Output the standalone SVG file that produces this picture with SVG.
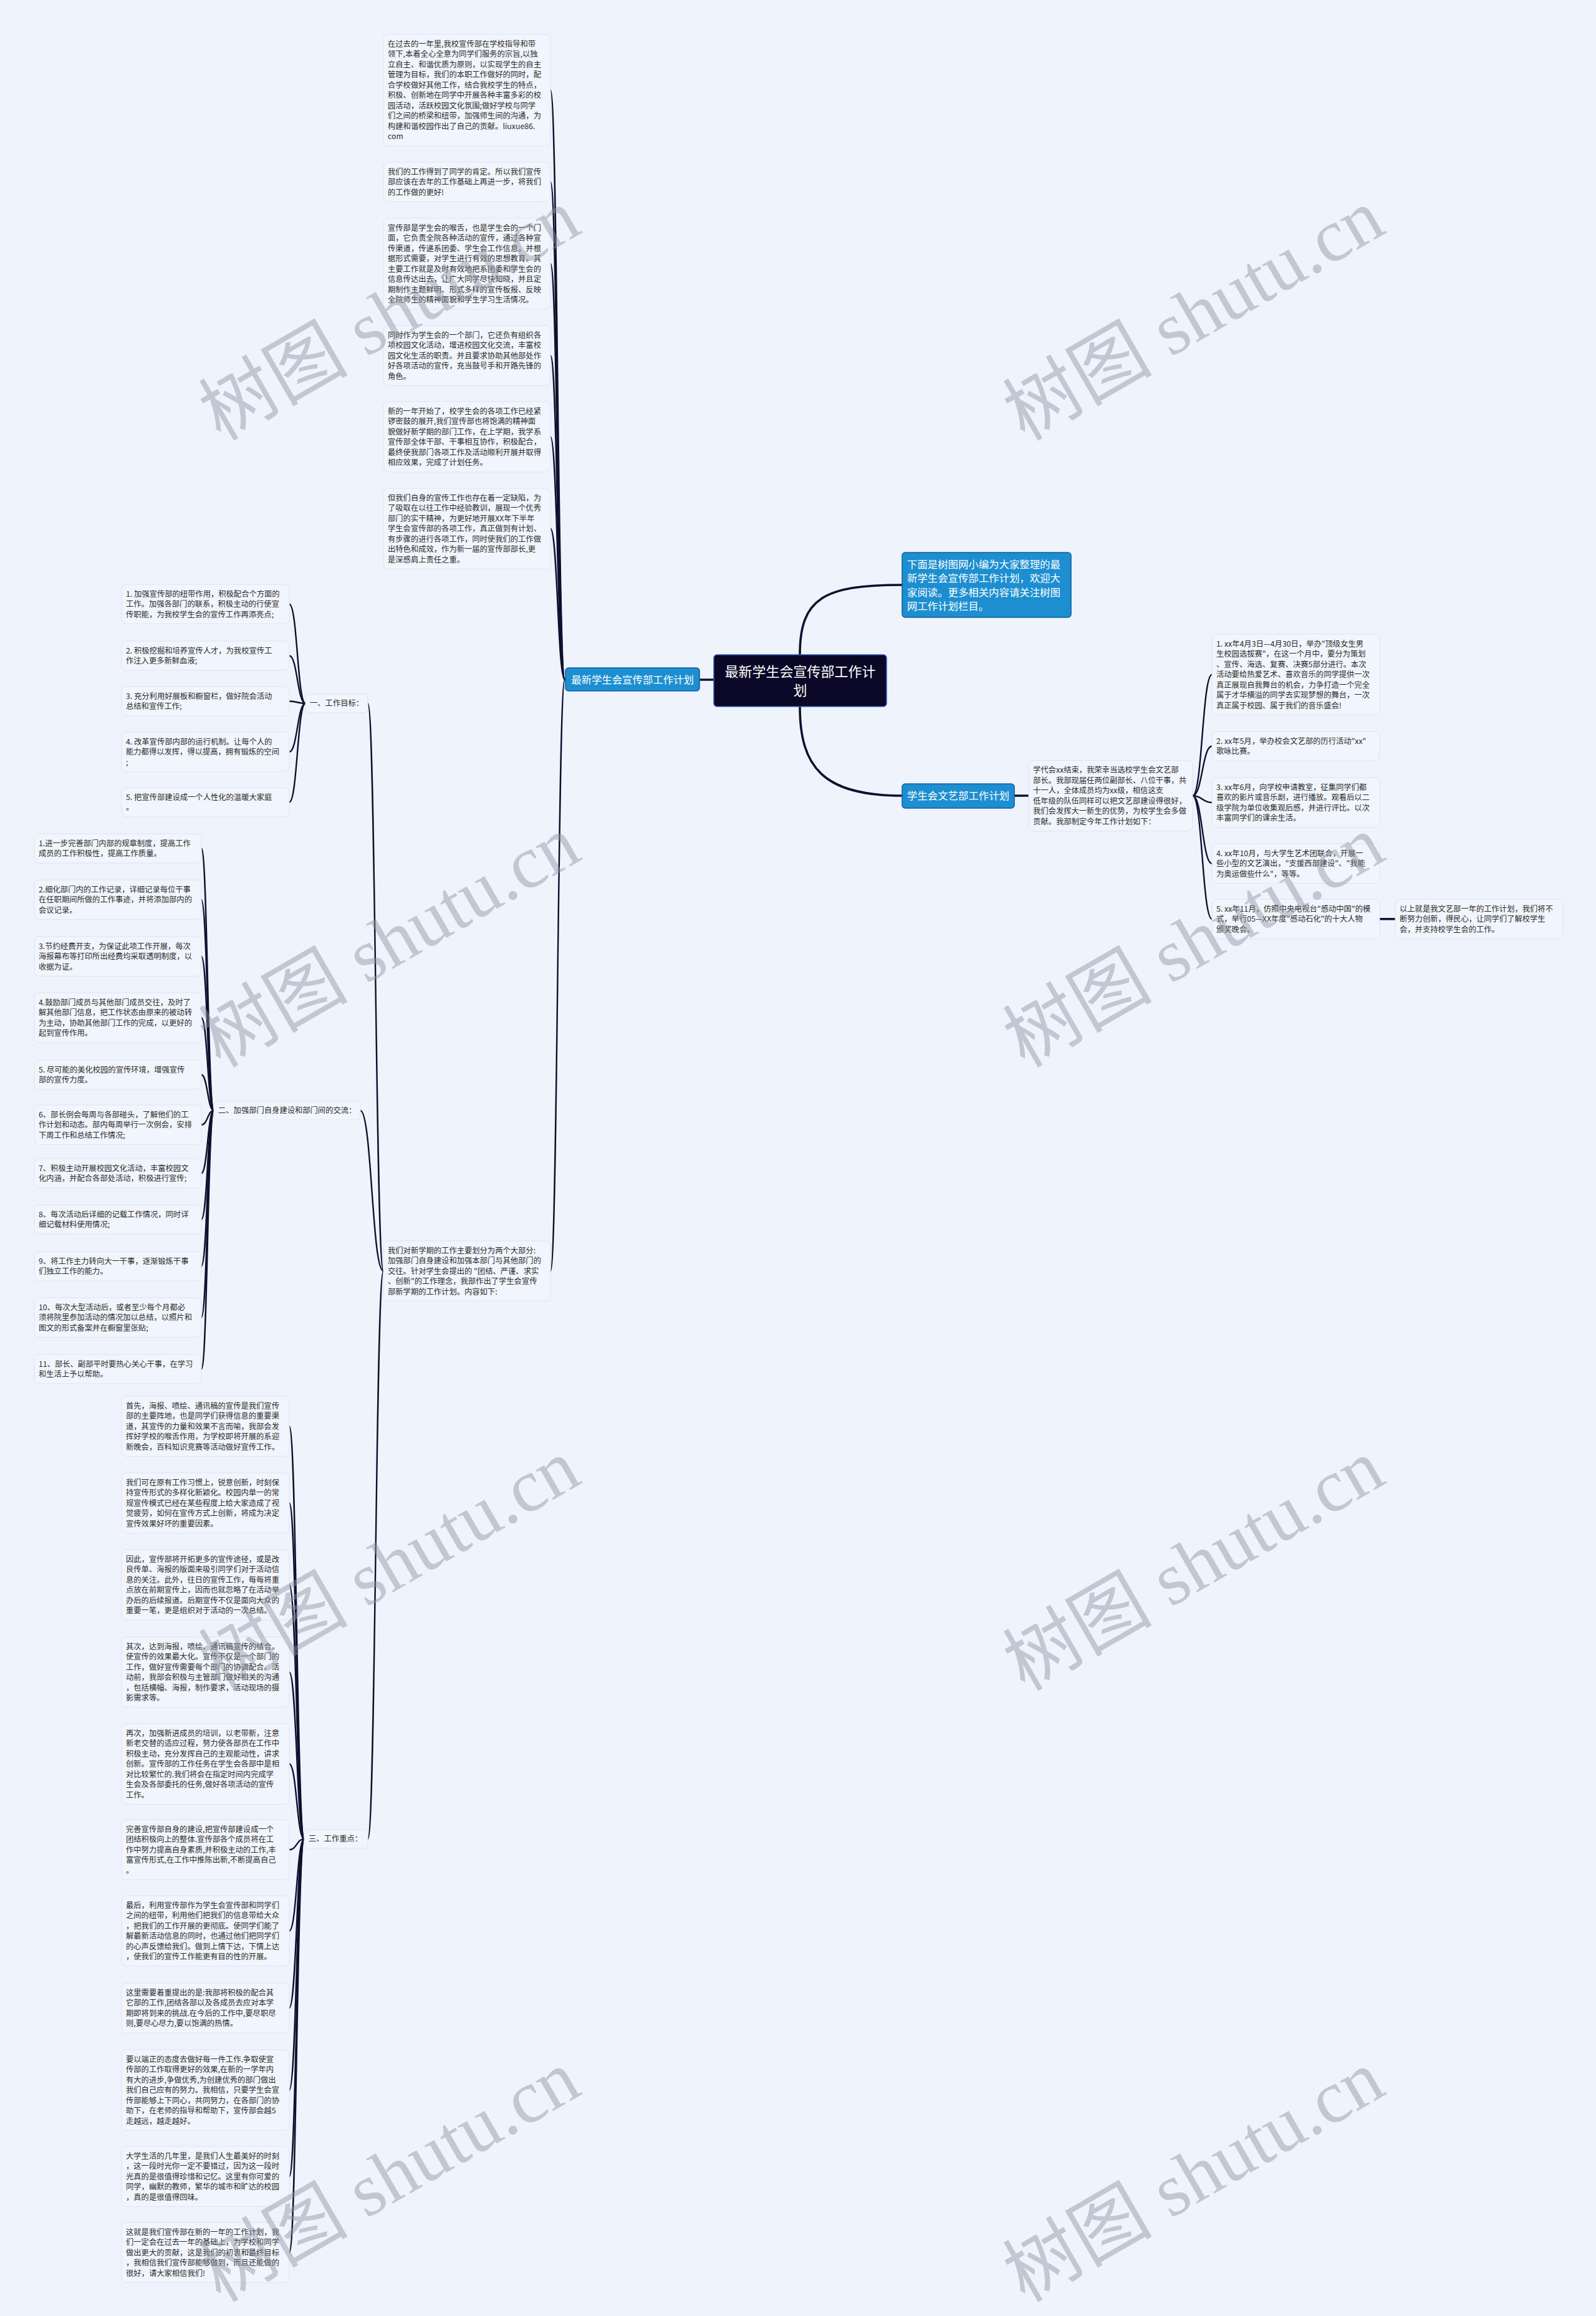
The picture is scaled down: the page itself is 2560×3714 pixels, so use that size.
<svg xmlns="http://www.w3.org/2000/svg" width="2560" height="3714" viewBox="0 0 2560 3714">
<style>
.t{font-family:"Noto Sans CJK SC","Noto Sans",sans-serif;font-size:12.3px;fill:#2b2b2b}
.blk{fill:#f1f5fd;stroke:#dde5f3;stroke-width:1}
.blue{fill:#1d8fd1;stroke:#0f5e9f;stroke-width:1.5}
.bt{font-family:"Noto Sans CJK SC","Noto Sans",sans-serif;font-size:16.4px;fill:#ffffff}
.rt{font-family:"Noto Sans CJK SC","Noto Sans",sans-serif;font-size:22px;fill:#ffffff}
.c{fill:none;stroke:#10102e;stroke-width:2.4;stroke-linecap:round}
.cr{fill:none;stroke:#10102e;stroke-width:3.6;stroke-linecap:round}
.wm{font-family:"Liberation Serif","Noto Sans CJK SC",serif;font-size:120px;fill:#8e95a2;opacity:0.45}
</style>
<rect x="0" y="0" width="2560" height="3714" fill="#eef3fc"/>

<g id="connectors">
<path class="cr" d="M1283 1050 C1283 960 1320 938 1447 938"/>
<path class="cr" d="M1283 1133 C1283 1230 1320 1276 1447 1276"/>
<path class="cr" d="M1145 1090 L1122 1090"/>
<path class="c" d="M906 1090 C894.5 1090 894.5 144.5 883 144.5"/>
<path class="c" d="M906 1090 C894.5 1090 894.5 291.75 883 291.75"/>
<path class="c" d="M906 1090 C894.5 1090 894.5 423 883 423"/>
<path class="c" d="M906 1090 C894.5 1090 894.5 570.25 883 570.25"/>
<path class="c" d="M906 1090 C894.5 1090 894.5 700.5 883 700.5"/>
<path class="c" d="M906 1090 C894.5 1090 894.5 847.75 883 847.75"/>
<path class="c" d="M906 1090 C894.5 1090 894.5 2038.25 883 2038.25"/>
<path class="c" d="M615 2038.25 C602.5 2038.25 602.5 1128 590 1128"/>
<path class="c" d="M615 2038.25 C596.5 2038.25 596.5 1781 578 1781"/>
<path class="c" d="M615 2038.25 C602.5 2038.25 602.5 2949 590 2949"/>
<path class="c" d="M490 1128 C477 1128 477 968.75 464 968.75"/>
<path class="c" d="M490 1128 C477 1128 477 1051.5 464 1051.5"/>
<path class="c" d="M490 1128 C477 1128 477 1124.5 464 1124.5"/>
<path class="c" d="M490 1128 C477 1128 477 1205.75 464 1205.75"/>
<path class="c" d="M490 1128 C477 1128 477 1286.5 464 1286.5"/>
<path class="c" d="M343 1781 C333 1781 333 1360.5 323 1360.5"/>
<path class="c" d="M343 1781 C333 1781 333 1442.75 323 1442.75"/>
<path class="c" d="M343 1781 C333 1781 333 1533.75 323 1533.75"/>
<path class="c" d="M343 1781 C333 1781 333 1632 323 1632"/>
<path class="c" d="M343 1781 C333 1781 333 1723.5 323 1723.5"/>
<path class="c" d="M343 1781 C333 1781 333 1803.75 323 1803.75"/>
<path class="c" d="M343 1781 C333 1781 333 1881.5 323 1881.5"/>
<path class="c" d="M343 1781 C333 1781 333 1955.5 323 1955.5"/>
<path class="c" d="M343 1781 C333 1781 333 2030.5 323 2030.5"/>
<path class="c" d="M343 1781 C333 1781 333 2112.75 323 2112.75"/>
<path class="c" d="M343 1781 C333 1781 333 2195.5 323 2195.5"/>
<path class="c" d="M488 2949 C476 2949 476 2287.25 464 2287.25"/>
<path class="c" d="M488 2949 C476 2949 476 2410.25 464 2410.25"/>
<path class="c" d="M488 2949 C476 2949 476 2541.5 464 2541.5"/>
<path class="c" d="M488 2949 C476 2949 476 2681.5 464 2681.5"/>
<path class="c" d="M488 2949 C476 2949 476 2828.75 464 2828.75"/>
<path class="c" d="M488 2949 C476 2949 476 2966.25 464 2966.25"/>
<path class="c" d="M488 2949 C476 2949 476 3096.5 464 3096.5"/>
<path class="c" d="M488 2949 C476 2949 476 3220 464 3220"/>
<path class="c" d="M488 2949 C476 2949 476 3351.75 464 3351.75"/>
<path class="c" d="M488 2949 C476 2949 476 3490.25 464 3490.25"/>
<path class="c" d="M488 2949 C476 2949 476 3612.25 464 3612.25"/>
<path class="cr" d="M1627 1276 L1650 1276"/>
<path class="c" d="M1913 1276 C1928.5 1276 1928.5 1081.75 1944 1081.75"/>
<path class="c" d="M1913 1276 C1928.5 1276 1928.5 1196.5 1944 1196.5"/>
<path class="c" d="M1913 1276 C1928.5 1276 1928.5 1287 1944 1287"/>
<path class="c" d="M1913 1276 C1928.5 1276 1928.5 1384.75 1944 1384.75"/>
<path class="c" d="M1913 1276 C1928.5 1276 1928.5 1473.75 1944 1473.75"/>
<path class="cr" d="M2213 1473.75 L2238 1473.75"/>
</g>

<g id="root">
<rect x="1145" y="1050" width="277" height="83" rx="5" fill="#0a0826" stroke="#2a5cb0" stroke-width="1.5"/>
<text class="rt" text-anchor="middle"><tspan x="1283.5" y="1084.7">最新学生会宣传部工作计</tspan><tspan x="1283.5" y="1114.7">划</tspan></text>
</g>
<g id="n-intro">
<rect class="blue" x="1447" y="886" width="271" height="104" rx="5"/>
<text class="bt"><tspan x="1455" y="911">下面是树图网小编为大家整理的最</tspan><tspan x="1455" y="933.3">新学生会宣传部工作计划，欢迎大</tspan><tspan x="1455" y="955.6">家阅读。更多相关内容请关注树图</tspan><tspan x="1455" y="978">网工作计划栏目。</tspan></text>
</g>
<g id="n-left">
<rect class="blue" x="907" y="1071" width="215" height="37" rx="5"/>
<text class="bt" x="1014.5" y="1095.7" text-anchor="middle">最新学生会宣传部工作计划</text>
</g>
<g id="n-wenyi">
<rect class="blue" x="1447" y="1257" width="180" height="39" rx="5"/>
<text class="bt" x="1537" y="1282" text-anchor="middle">学生会文艺部工作计划</text>
</g>

<g id="t-a">
<rect class="blk" x="615" y="55" width="268" height="179" rx="8"/>
<text class="t" y="74.5"><tspan x="622" dy="0">在过去的一年里,我校宣传部在学校指导和带</tspan><tspan x="622" dy="16.5">领下,本着全心全意为同学们服务的宗旨,以独</tspan><tspan x="622" dy="16.5">立自主、和谐优质为原则，以实现学生的自主</tspan><tspan x="622" dy="16.5">管理为目标，我们的本职工作做好的同时，配</tspan><tspan x="622" dy="16.5">合学校做好其他工作，结合我校学生的特点，</tspan><tspan x="622" dy="16.5">积极、创新地在同学中开展各种丰富多彩的校</tspan><tspan x="622" dy="16.5">园活动，活跃校园文化氛围;做好学校与同学</tspan><tspan x="622" dy="16.5">们之间的桥梁和纽带，加强师生间的沟通，为</tspan><tspan x="622" dy="16.5">构建和谐校园作出了自己的贡献。liuxue86.</tspan><tspan x="622" dy="16.5">com</tspan></text>
</g>
<g id="t-b">
<rect class="blk" x="615" y="260" width="268" height="63.5" rx="8"/>
<text class="t" y="279.5"><tspan x="622" dy="0">我们的工作得到了同学的肯定。所以我们宣传</tspan><tspan x="622" dy="16.5">部应该在去年的工作基础上再进一步，将我们</tspan><tspan x="622" dy="16.5">的工作做的更好!</tspan></text>
</g>
<g id="t-c">
<rect class="blk" x="615" y="350" width="268" height="146" rx="8"/>
<text class="t" y="369.5"><tspan x="622" dy="0">宣传部是学生会的喉舌，也是学生会的一个门</tspan><tspan x="622" dy="16.5">面，它负责全院各种活动的宣传，通过各种宣</tspan><tspan x="622" dy="16.5">传渠道，传递系团委、学生会工作信息，并根</tspan><tspan x="622" dy="16.5">据形式需要，对学生进行有效的思想教育。其</tspan><tspan x="622" dy="16.5">主要工作就是及时有效地把系团委和学生会的</tspan><tspan x="622" dy="16.5">信息传达出去，让广大同学尽快知晓，并且定</tspan><tspan x="622" dy="16.5">期制作主题鲜明、形式多样的宣传板报、反映</tspan><tspan x="622" dy="16.5">全院师生的精神面貌和学生学习生活情况。</tspan></text>
</g>
<g id="t-d">
<rect class="blk" x="615" y="522" width="268" height="96.5" rx="8"/>
<text class="t" y="541.5"><tspan x="622" dy="0">同时作为学生会的一个部门，它还负有组织各</tspan><tspan x="622" dy="16.5">项校园文化活动，增进校园文化交流，丰富校</tspan><tspan x="622" dy="16.5">园文化生活的职责。并且要求协助其他部处作</tspan><tspan x="622" dy="16.5">好各项活动的宣传，充当鼓号手和开路先锋的</tspan><tspan x="622" dy="16.5">角色。</tspan></text>
</g>
<g id="t-e">
<rect class="blk" x="615" y="644" width="268" height="113" rx="8"/>
<text class="t" y="663.5"><tspan x="622" dy="0">新的一年开始了，校学生会的各项工作已经紧</tspan><tspan x="622" dy="16.5">锣密鼓的展开,我们宣传部也将饱满的精神面</tspan><tspan x="622" dy="16.5">貌做好新学期的部门工作，在上学期，我学系</tspan><tspan x="622" dy="16.5">宣传部全体干部、干事相互协作，积极配合，</tspan><tspan x="622" dy="16.5">最终使我部门各项工作及活动顺利开展并取得</tspan><tspan x="622" dy="16.5">相应效果，完成了计划任务。</tspan></text>
</g>
<g id="t-f">
<rect class="blk" x="615" y="783" width="268" height="129.5" rx="8"/>
<text class="t" y="802.5"><tspan x="622" dy="0">但我们自身的宣传工作也存在着一定缺陷，为</tspan><tspan x="622" dy="16.5">了吸取在以往工作中经验教训，展现一个优秀</tspan><tspan x="622" dy="16.5">部门的实干精神，为更好地开展XX年下半年</tspan><tspan x="622" dy="16.5">学生会宣传部的各项工作，真正做到有计划、</tspan><tspan x="622" dy="16.5">有步骤的进行各项工作，同时使我们的工作做</tspan><tspan x="622" dy="16.5">出特色和成效，作为新一届的宣传部部长,更</tspan><tspan x="622" dy="16.5">是深感肩上责任之重。</tspan></text>
</g>
<g id="t-g">
<rect class="blk" x="615" y="1990" width="268" height="96.5" rx="8"/>
<text class="t" y="2009.5"><tspan x="622" dy="0">我们对新学期的工作主要划分为两个大部分:</tspan><tspan x="622" dy="16.5">加强部门自身建设和加强本部门与其他部门的</tspan><tspan x="622" dy="16.5">交往。针对学生会提出的 "团结、严谨、求实</tspan><tspan x="622" dy="16.5">、创新"的工作理念，我部作出了学生会宣传</tspan><tspan x="622" dy="16.5">部新学期的工作计划。内容如下:</tspan></text>
</g>

<g id="n-one">
<rect class="blk" x="490" y="1113" width="100" height="30" rx="6"/>
<text class="t" x="497" y="1132.3">一、工作目标：</text>
</g>
<g id="b1"><rect class="blk" x="195" y="937" width="269" height="63.5" rx="8"/>
<text class="t" y="956.5"><tspan x="202" dy="0">1. 加强宣传部的纽带作用，积极配合个方面的</tspan><tspan x="202" dy="16.5">工作。加强各部门的联系，积极主动的行使宣</tspan><tspan x="202" dy="16.5">传职能，为我校学生会的宣传工作再添亮点;</tspan></text></g>
<g id="b2"><rect class="blk" x="195" y="1028" width="269" height="47" rx="8"/>
<text class="t" y="1047.5"><tspan x="202" dy="0">2. 积极挖掘和培养宣传人才，为我校宣传工</tspan><tspan x="202" dy="16.5">作注入更多新鲜血液;</tspan></text></g>
<g id="b3"><rect class="blk" x="195" y="1101" width="269" height="47" rx="8"/>
<text class="t" y="1120.5"><tspan x="202" dy="0">3. 充分利用好展板和橱窗栏，做好院会活动</tspan><tspan x="202" dy="16.5">总结和宣传工作;</tspan></text></g>
<g id="b4"><rect class="blk" x="195" y="1174" width="269" height="63.5" rx="8"/>
<text class="t" y="1193.5"><tspan x="202" dy="0">4. 改革宣传部内部的运行机制。让每个人的</tspan><tspan x="202" dy="16.5">能力都得以发挥，得以提高，拥有锻炼的空间</tspan><tspan x="202" dy="16.5">;</tspan></text></g>
<g id="b5"><rect class="blk" x="195" y="1263" width="269" height="47" rx="8"/>
<text class="t" y="1282.5"><tspan x="202" dy="0">5. 把宣传部建设成一个人性化的温暖大家庭</tspan><tspan x="202" dy="16.5">。</tspan></text></g>

<g id="n-two">
<rect class="blk" x="343" y="1766" width="235" height="30" rx="6"/>
<text class="t" x="350" y="1785.3">二、加强部门自身建设和部门间的交流：</text>
</g>
<g id="c1"><rect class="blk" x="55" y="1337" width="268" height="47" rx="8"/>
<text class="t" y="1356.5"><tspan x="62" dy="0">1.进一步完善部门内部的规章制度，提高工作</tspan><tspan x="62" dy="16.5">成员的工作积极性，提高工作质量。</tspan></text></g>
<g id="c2"><rect class="blk" x="55" y="1411" width="268" height="63.5" rx="8"/>
<text class="t" y="1430.5"><tspan x="62" dy="0">2.细化部门内的工作记录，详细记录每位干事</tspan><tspan x="62" dy="16.5">在任职期间所做的工作事迹，并将添加部内的</tspan><tspan x="62" dy="16.5">会议记录。</tspan></text></g>
<g id="c3"><rect class="blk" x="55" y="1502" width="268" height="63.5" rx="8"/>
<text class="t" y="1521.5"><tspan x="62" dy="0">3.节约经费开支，为保证此项工作开展，每次</tspan><tspan x="62" dy="16.5">海报幕布等打印所出经费均采取透明制度，以</tspan><tspan x="62" dy="16.5">收据为证。</tspan></text></g>
<g id="c4"><rect class="blk" x="55" y="1592" width="268" height="80" rx="8"/>
<text class="t" y="1611.5"><tspan x="62" dy="0">4.鼓励部门成员与其他部门成员交往，及时了</tspan><tspan x="62" dy="16.5">解其他部门信息，把工作状态由原来的被动转</tspan><tspan x="62" dy="16.5">为主动，协助其他部门工作的完成，以更好的</tspan><tspan x="62" dy="16.5">起到宣传作用。</tspan></text></g>
<g id="c5"><rect class="blk" x="55" y="1700" width="268" height="47" rx="8"/>
<text class="t" y="1719.5"><tspan x="62" dy="0">5. 尽可能的美化校园的宣传环境，增强宣传</tspan><tspan x="62" dy="16.5">部的宣传力度。</tspan></text></g>
<g id="c6"><rect class="blk" x="55" y="1772" width="268" height="63.5" rx="8"/>
<text class="t" y="1791.5"><tspan x="62" dy="0">6、部长例会每周与各部碰头，了解他们的工</tspan><tspan x="62" dy="16.5">作计划和动态。部内每周举行一次例会，安排</tspan><tspan x="62" dy="16.5">下周工作和总结工作情况;</tspan></text></g>
<g id="c7"><rect class="blk" x="55" y="1858" width="268" height="47" rx="8"/>
<text class="t" y="1877.5"><tspan x="62" dy="0">7、积极主动开展校园文化活动，丰富校园文</tspan><tspan x="62" dy="16.5">化内涵，并配合各部处活动，积极进行宣传;</tspan></text></g>
<g id="c8"><rect class="blk" x="55" y="1932" width="268" height="47" rx="8"/>
<text class="t" y="1951.5"><tspan x="62" dy="0">8、每次活动后详细的记载工作情况，同时详</tspan><tspan x="62" dy="16.5">细记载材料使用情况;</tspan></text></g>
<g id="c9"><rect class="blk" x="55" y="2007" width="268" height="47" rx="8"/>
<text class="t" y="2026.5"><tspan x="62" dy="0">9、将工作主力转向大一干事，逐渐锻炼干事</tspan><tspan x="62" dy="16.5">们独立工作的能力。</tspan></text></g>
<g id="c10"><rect class="blk" x="55" y="2081" width="268" height="63.5" rx="8"/>
<text class="t" y="2100.5"><tspan x="62" dy="0">10、每次大型活动后，或者至少每个月都必</tspan><tspan x="62" dy="16.5">须将院里参加活动的情况加以总结，以照片和</tspan><tspan x="62" dy="16.5">图文的形式备案并在橱窗里张贴;</tspan></text></g>
<g id="c11"><rect class="blk" x="55" y="2172" width="268" height="47" rx="8"/>
<text class="t" y="2191.5"><tspan x="62" dy="0">11、部长、副部平时要热心关心干事，在学习</tspan><tspan x="62" dy="16.5">和生活上予以帮助。</tspan></text></g>

<g id="n-three">
<rect class="blk" x="488" y="2934" width="102" height="30" rx="6"/>
<text class="t" x="495" y="2953.3">三、工作重点：</text>
</g>
<g id="d1"><rect class="blk" x="195" y="2239" width="269" height="96.5" rx="8"/>
<text class="t" y="2258.5"><tspan x="202" dy="0">首先，海报、喷绘、通讯稿的宣传是我们宣传</tspan><tspan x="202" dy="16.5">部的主要阵地，也是同学们获得信息的重要渠</tspan><tspan x="202" dy="16.5">道，其宣传的力量和效果不言而喻，我部会发</tspan><tspan x="202" dy="16.5">挥好学校的喉舌作用，为学校即将开展的系迎</tspan><tspan x="202" dy="16.5">新晚会，百科知识竞赛等活动做好宣传工作。</tspan></text></g>
<g id="d2"><rect class="blk" x="195" y="2362" width="269" height="96.5" rx="8"/>
<text class="t" y="2381.5"><tspan x="202" dy="0">我们可在原有工作习惯上，锐意创新，时刻保</tspan><tspan x="202" dy="16.5">持宣传形式的多样化新颖化。校园内单一的常</tspan><tspan x="202" dy="16.5">规宣传模式已经在某些程度上给大家造成了视</tspan><tspan x="202" dy="16.5">觉疲劳，如何在宣传方式上创新，将成为决定</tspan><tspan x="202" dy="16.5">宣传效果好坏的重要因素。</tspan></text></g>
<g id="d3"><rect class="blk" x="195" y="2485" width="269" height="113" rx="8"/>
<text class="t" y="2504.5"><tspan x="202" dy="0">因此，宣传部将开拓更多的宣传途径，或是改</tspan><tspan x="202" dy="16.5">良传单、海报的版面来吸引同学们对于活动信</tspan><tspan x="202" dy="16.5">息的关注。此外，往日的宣传工作，每每将重</tspan><tspan x="202" dy="16.5">点放在前期宣传上，因而也就忽略了在活动举</tspan><tspan x="202" dy="16.5">办后的后续报道。后期宣传不仅是面向大众的</tspan><tspan x="202" dy="16.5">重要一笔，更是组织对于活动的一次总结。</tspan></text></g>
<g id="d4"><rect class="blk" x="195" y="2625" width="269" height="113" rx="8"/>
<text class="t" y="2644.5"><tspan x="202" dy="0">其次，达到海报，喷绘、通讯稿宣传的结合。</tspan><tspan x="202" dy="16.5">使宣传的效果最大化。宣传不仅是一个部门的</tspan><tspan x="202" dy="16.5">工作，做好宣传需要每个部门的协调配合。活</tspan><tspan x="202" dy="16.5">动前，我部会积极与主管部门做好相关的沟通</tspan><tspan x="202" dy="16.5">，包括横幅、海报，制作要求，活动现场的摄</tspan><tspan x="202" dy="16.5">影需求等。</tspan></text></g>
<g id="d5"><rect class="blk" x="195" y="2764" width="269" height="129.5" rx="8"/>
<text class="t" y="2783.5"><tspan x="202" dy="0">再次，加强新进成员的培训，以老带新，注意</tspan><tspan x="202" dy="16.5">新老交替的适应过程，努力使各部员在工作中</tspan><tspan x="202" dy="16.5">积极主动，充分发挥自己的主观能动性，讲求</tspan><tspan x="202" dy="16.5">创新。宣传部的工作任务在学生会各部中是相</tspan><tspan x="202" dy="16.5">对比较繁忙的.我们将会在指定时间内完成学</tspan><tspan x="202" dy="16.5">生会及各部委托的任务,做好各项活动的宣传</tspan><tspan x="202" dy="16.5">工作。</tspan></text></g>
<g id="d6"><rect class="blk" x="195" y="2918" width="269" height="96.5" rx="8"/>
<text class="t" y="2937.5"><tspan x="202" dy="0">完善宣传部自身的建设,把宣传部建设成一个</tspan><tspan x="202" dy="16.5">团结积极向上的整体.宣传部各个成员将在工</tspan><tspan x="202" dy="16.5">作中努力提高自身素质,并积极主动的工作,丰</tspan><tspan x="202" dy="16.5">富宣传形式,在工作中推陈出新,不断提高自己</tspan><tspan x="202" dy="16.5">。</tspan></text></g>
<g id="d7"><rect class="blk" x="195" y="3040" width="269" height="113" rx="8"/>
<text class="t" y="3059.5"><tspan x="202" dy="0">最后，利用宣传部作为学生会宣传部和同学们</tspan><tspan x="202" dy="16.5">之间的纽带，利用他们把我们的信息带给大众</tspan><tspan x="202" dy="16.5">，把我们的工作开展的更彻底。使同学们能了</tspan><tspan x="202" dy="16.5">解最新活动信息的同时，也通过他们把同学们</tspan><tspan x="202" dy="16.5">的心声反馈给我们。做到上情下达，下情上达</tspan><tspan x="202" dy="16.5">，使我们的宣传工作能更有目的性的开展。</tspan></text></g>
<g id="d8"><rect class="blk" x="195" y="3180" width="269" height="80" rx="8"/>
<text class="t" y="3199.5"><tspan x="202" dy="0">这里需要着重提出的是:我部将积极的配合其</tspan><tspan x="202" dy="16.5">它部的工作,团结各部以及各成员去应对本学</tspan><tspan x="202" dy="16.5">期即将到来的挑战.在今后的工作中,要尽职尽</tspan><tspan x="202" dy="16.5">则,要尽心尽力,要以饱满的热情。</tspan></text></g>
<g id="d9"><rect class="blk" x="195" y="3287" width="269" height="129.5" rx="8"/>
<text class="t" y="3306.5"><tspan x="202" dy="0">要以端正的态度去做好每一件工作.争取使宣</tspan><tspan x="202" dy="16.5">传部的工作取得更好的效果,在新的一学年内</tspan><tspan x="202" dy="16.5">有大的进步,争做优秀,为创建优秀的部门做出</tspan><tspan x="202" dy="16.5">我们自己应有的努力。我相信，只要学生会宣</tspan><tspan x="202" dy="16.5">传部能够上下同心，共同努力，在各部门的协</tspan><tspan x="202" dy="16.5">助下，在老师的指导和帮助下，宣传部会越5</tspan><tspan x="202" dy="16.5">走越远，越走越好。</tspan></text></g>
<g id="d10"><rect class="blk" x="195" y="3442" width="269" height="96.5" rx="8"/>
<text class="t" y="3461.5"><tspan x="202" dy="0">大学生活的几年里，是我们人生最美好的时刻</tspan><tspan x="202" dy="16.5">，这一段时光你一定不要错过，因为这一段时</tspan><tspan x="202" dy="16.5">光真的是很值得珍惜和记忆。这里有你可爱的</tspan><tspan x="202" dy="16.5">同学，幽默的教师，繁华的城市和旷达的校园</tspan><tspan x="202" dy="16.5">，真的是很值得回味。</tspan></text></g>
<g id="d11"><rect class="blk" x="195" y="3564" width="269" height="96.5" rx="8"/>
<text class="t" y="3583.5"><tspan x="202" dy="0">这就是我们宣传部在新的一年的工作计划，我</tspan><tspan x="202" dy="16.5">们一定会在过去一年的基础上，为学校和同学</tspan><tspan x="202" dy="16.5">做出更大的贡献，这是我们的初衷和最终目标</tspan><tspan x="202" dy="16.5">，我相信我们宣传部能够做到，而且还能做的</tspan><tspan x="202" dy="16.5">很好，请大家相信我们!</tspan></text></g>

<g id="w-intro"><rect class="blk" x="1650" y="1219.5" width="263" height="113" rx="8"/>
<text class="t" y="1239"><tspan x="1657" dy="0">学代会xx结束，我荣幸当选校学生会文艺部</tspan><tspan x="1657" dy="16.5">部长。我部现届任两位副部长、八位干事，共</tspan><tspan x="1657" dy="16.5">十一人，全体成员均为xx级，相信这支</tspan><tspan x="1657" dy="16.5">低年级的队伍同样可以把文艺部建设得很好，</tspan><tspan x="1657" dy="16.5">我们会发挥大一新生的优势，为校学生会多做</tspan><tspan x="1657" dy="16.5">贡献。我部制定今年工作计划如下：</tspan></text></g>
<g id="r1"><rect class="blk" x="1944" y="1017" width="269" height="129.5" rx="8"/>
<text class="t" y="1036.5"><tspan x="1951" dy="0">1. xx年4月3日—4月30日，举办"顶级女生男</tspan><tspan x="1951" dy="16.5">生校园选拔赛"，在这一个月中，要分为策划</tspan><tspan x="1951" dy="16.5">、宣传、海选、复赛、决赛5部分进行。本次</tspan><tspan x="1951" dy="16.5">活动要给热爱艺术、喜欢音乐的同学提供一次</tspan><tspan x="1951" dy="16.5">真正展现自我舞台的机会，力争打造一个完全</tspan><tspan x="1951" dy="16.5">属于才华横溢的同学去实现梦想的舞台，一次</tspan><tspan x="1951" dy="16.5">真正属于校园、属于我们的音乐盛会!</tspan></text></g>
<g id="r2"><rect class="blk" x="1944" y="1173" width="269" height="47" rx="8"/>
<text class="t" y="1192.5"><tspan x="1951" dy="0">2. xx年5月，举办校会文艺部的历行活动"xx"</tspan><tspan x="1951" dy="16.5">歌咏比赛。</tspan></text></g>
<g id="r3"><rect class="blk" x="1944" y="1247" width="269" height="80" rx="8"/>
<text class="t" y="1266.5"><tspan x="1951" dy="0">3. xx年6月，向学校申请教室，征集同学们都</tspan><tspan x="1951" dy="16.5">喜欢的影片或音乐剧，进行播放。观看后以二</tspan><tspan x="1951" dy="16.5">级学院为单位收集观后感，并进行评比。以次</tspan><tspan x="1951" dy="16.5">丰富同学们的课余生活。</tspan></text></g>
<g id="r4"><rect class="blk" x="1944" y="1353" width="269" height="63.5" rx="8"/>
<text class="t" y="1372.5"><tspan x="1951" dy="0">4. xx年10月，与大学生艺术团联合，开展一</tspan><tspan x="1951" dy="16.5">些小型的文艺演出，"支援西部建设"、"我能</tspan><tspan x="1951" dy="16.5">为奥运做些什么"，等等。</tspan></text></g>
<g id="r5"><rect class="blk" x="1944" y="1442" width="269" height="63.5" rx="8"/>
<text class="t" y="1461.5"><tspan x="1951" dy="0">5. xx年11月，仿照中央电视台"感动中国"的模</tspan><tspan x="1951" dy="16.5">式，举行05—XX年度"感动石化"的十大人物</tspan><tspan x="1951" dy="16.5">颁奖晚会。</tspan></text></g>
<g id="r-end"><rect class="blk" x="2238" y="1442" width="269" height="63.5" rx="8"/>
<text class="t" y="1461.5"><tspan x="2245" dy="0">以上就是我文艺部一年的工作计划，我们将不</tspan><tspan x="2245" dy="16.5">断努力创新，得民心，让同学们了解校学生</tspan><tspan x="2245" dy="16.5">会，并支持校学生会的工作。</tspan></text></g>

<g id="watermarks">
<text class="wm" text-anchor="middle" transform="translate(645,540) rotate(-30)">树图 shutu.cn</text>
<text class="wm" text-anchor="middle" transform="translate(1935,540) rotate(-30)">树图 shutu.cn</text>
<text class="wm" text-anchor="middle" transform="translate(645,1545) rotate(-30)">树图 shutu.cn</text>
<text class="wm" text-anchor="middle" transform="translate(1935,1545) rotate(-30)">树图 shutu.cn</text>
<text class="wm" text-anchor="middle" transform="translate(645,2545) rotate(-30)">树图 shutu.cn</text>
<text class="wm" text-anchor="middle" transform="translate(1935,2545) rotate(-30)">树图 shutu.cn</text>
<text class="wm" text-anchor="middle" transform="translate(645,3525) rotate(-30)">树图 shutu.cn</text>
<text class="wm" text-anchor="middle" transform="translate(1935,3525) rotate(-30)">树图 shutu.cn</text>
</g>
</svg>
